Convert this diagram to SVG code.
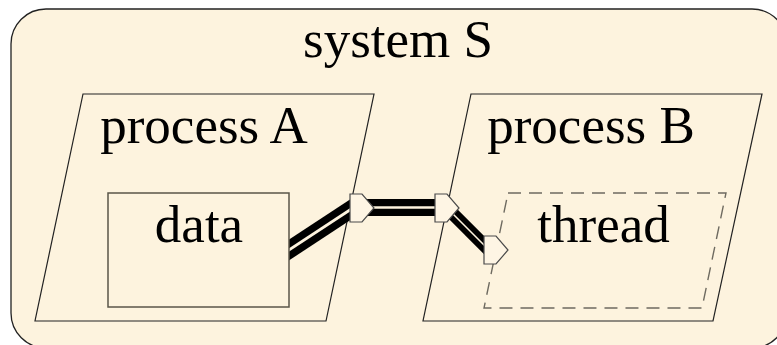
<svg xmlns="http://www.w3.org/2000/svg" width="777" height="345" viewBox="0 0 777 345">
  <style>
    .shape { fill: none; stroke: #222; stroke-width: 1.2; }
    .box { fill: #fdf3de; stroke: #5a5548; stroke-width: 1.5; }
    .dash { fill: none; stroke: #6e6a60; stroke-width: 1.4; stroke-dasharray: 13 8; }
    .port { fill: #fef5e4; stroke: #4a4a4a; stroke-width: 1.2; stroke-linejoin: miter; }
    .wire { stroke: #000; fill: none; stroke-linecap: butt; }
    .core { stroke: #fdf3de; fill: none; stroke-linecap: butt; }
    text { font-family: "Liberation Serif", "Times New Roman", serif; font-size: 53px; fill: #000; text-anchor: middle; }
  </style>

  <g id="system-S">
    <rect x="11" y="9" width="776" height="339" rx="35" ry="35" fill="#fdf3de" stroke="#222" stroke-width="1.3"/>
    <text x="398" y="56.5">system S</text>
  </g>

  <g id="process-A">
    <polygon class="shape" points="83,94 374,94 326,321 35,321"/>
    <text x="204" y="143">process A</text>
  </g>

  <g id="process-B">
    <polygon class="shape" points="471,94 762,94 713,321 423,321"/>
    <text x="591" y="143">process B</text>
  </g>

  <g id="thread">
    <polygon class="dash" points="508,193 726,193 702,308 484,308"/>
    <text x="603.5" y="242">thread</text>
  </g>

  <g id="connectors">
    <line class="wire" x1="276" y1="258.5" x2="362" y2="202" stroke-width="17.5"/>
    <line class="core" x1="276" y1="258.5" x2="362" y2="202" stroke-width="2.8"/>
    <line class="wire" x1="362" y1="207.5" x2="447" y2="207.5" stroke-width="17"/>
    <line class="core" x1="362" y1="207.5" x2="447" y2="207.5" stroke-width="2.5"/>
    <line class="wire" x1="447" y1="208" x2="492" y2="253" stroke-width="13"/>
    <line class="core" x1="447" y1="208" x2="492" y2="253" stroke-width="1.6"/>
  </g>

  <g id="data">
    <rect class="box" x="108" y="193" width="181" height="114"/>
    <text x="199" y="242">data</text>
  </g>

  <g id="port-A">
    <polygon class="port" points="350,194 362,194 374,208 362,222 350,222"/>
  </g>
  <g id="port-B">
    <polygon class="port" points="435,194 447,194 459,208 447,222 435,222"/>
  </g>
  <g id="port-thread">
    <polygon class="port" points="484,236 496,236 508,250 496,264 484,264"/>
  </g>
</svg>
